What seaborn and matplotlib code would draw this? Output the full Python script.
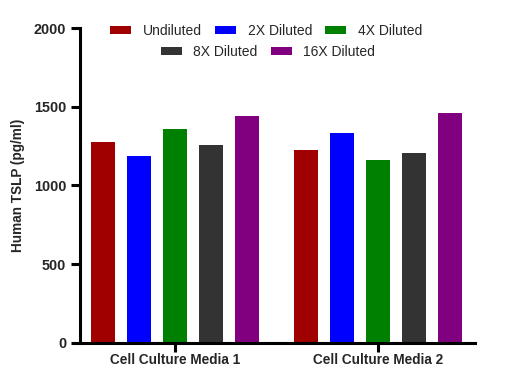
import pandas as pd
import matplotlib.pyplot as plt
import seaborn as sns
from matplotlib.patches import Patch

media = ['Cell Culture Media 1', 'Cell Culture Media 2']
dilutions = ['Undiluted', '2X Diluted', '4X Diluted', '8X Diluted', '16X Diluted']
media1 = [1276, 1187, 1359, 1257, 1441]
media2 = [1225, 1333, 1162, 1206, 1460]
colors = ['#A00000', '#0000FF', '#008000', '#333333', '#800080']

rows = []
for m, vals in zip(media, [media1, media2]):
    for d, v in zip(dilutions, vals):
        rows.append({'media': m, 'dilution': d, 'tslp': v})
df = pd.DataFrame(rows)

sns.set_style('ticks')
plt.rcParams['font.family'] = ['Liberation Sans', 'DejaVu Sans']

fig = plt.figure(figsize=(5.2, 3.89), dpi=100)
ax = fig.add_axes([0.1538, 0.1183, 0.7596, 0.8097])
sns.barplot(data=df, x='media', y='tslp', hue='dilution', hue_order=dilutions,
            palette=colors, width=0.887, gap=0.33, ax=ax, legend=False,
            saturation=1, linewidth=0)

ax.set_ylim(0, 2000)
ax.set_xlim(-0.468, 1.478)
ax.set_yticks([0, 500, 1000, 1500, 2000])
ax.set_xlabel('')
ax.set_ylabel('Human TSLP (pg/ml)', fontsize=9.8, fontweight='bold', labelpad=6)
for lab in ax.get_xticklabels() + ax.get_yticklabels():
    lab.set_fontweight('bold')
ax.tick_params(axis='x', labelsize=9.8, pad=1)
ax.tick_params(axis='y', labelsize=10.4)
ax.tick_params(axis='both', width=2.2, length=6.5, color='black')
for s in ['left', 'bottom']:
    ax.spines[s].set_linewidth(2.2)
    ax.spines[s].set_color('black')
sns.despine(ax=ax)

handles = [Patch(facecolor=c, edgecolor='none') for c in colors]
legend_kw = dict(loc='center', frameon=False, fontsize=10, handlelength=1.5,
                 handleheight=0.5, handletextpad=0.85, columnspacing=0.95)
leg1 = fig.legend(handles[:3], dilutions[:3], ncol=3,
                  bbox_to_anchor=(266 / 520, 1 - 31 / 389), **legend_kw)
leg2 = fig.legend(handles[3:], dilutions[3:], ncol=2,
                  bbox_to_anchor=(268 / 520, 1 - 52 / 389), **legend_kw)

fig.savefig('out.png', dpi=100)
